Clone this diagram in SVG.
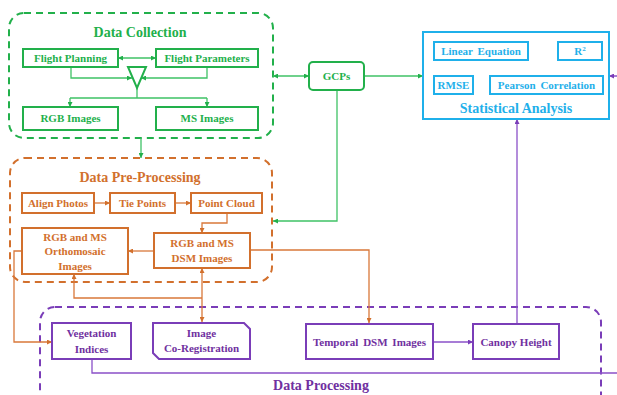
<svg xmlns="http://www.w3.org/2000/svg" width="617" height="395" viewBox="0 0 617 395">
<defs>
<marker id="ag" viewBox="0 0 10 10" refX="10" refY="5" markerWidth="5" markerHeight="5" markerUnits="userSpaceOnUse" orient="auto-start-reverse"><path d="M0 0L10 5L0 10z" fill="#22b04b"/></marker>
<marker id="ao" viewBox="0 0 10 10" refX="10" refY="5" markerWidth="5" markerHeight="5" markerUnits="userSpaceOnUse" orient="auto-start-reverse"><path d="M0 0L10 5L0 10z" fill="#d2702d"/></marker>
<marker id="ap" viewBox="0 0 10 10" refX="10" refY="5" markerWidth="5" markerHeight="5" markerUnits="userSpaceOnUse" orient="auto-start-reverse"><path d="M0 0L10 5L0 10z" fill="#7a3db8"/></marker>
</defs>
<style>
text{font-family:"Liberation Serif","Times New Roman",serif;font-weight:bold;text-anchor:middle}
.t{font-size:11px}
.h{font-size:14px}
.g{fill:#22b04b}.o{fill:#d2702d}.p{fill:#7030a0}.b{fill:#1fb0ea}
.bg{fill:#fff;stroke:#22b04b;stroke-width:2}
.bo{fill:#fff;stroke:#d2702d;stroke-width:2}
.bp{fill:#fff;stroke:#7a3db8;stroke-width:2}
.bb{fill:#fff;stroke:#1fb0ea;stroke-width:2}
.dg{fill:none;stroke:#22b04b;stroke-width:2;stroke-dasharray:7 5}
.do{fill:none;stroke:#d2702d;stroke-width:2;stroke-dasharray:7 5}
.dp{fill:none;stroke:#7a3db8;stroke-width:2;stroke-dasharray:7 5}
.cg{fill:none;stroke:#3fc266;stroke-width:1.3}
.co{fill:none;stroke:#d9783a;stroke-width:1.3}
.cp{fill:none;stroke:#8a50c8;stroke-width:1.3}
</style>
<g id="groups">
<rect class="dg" x="9" y="13" width="264" height="125" rx="15"/>
<text class="h g" x="140" y="37">Data Collection</text>
<rect class="do" x="10" y="158" width="262" height="124" rx="15"/>
<text class="h o" x="140" y="182">Data Pre-Processing</text>
<rect class="dp" x="40" y="307" width="561" height="110" rx="15"/>
<text class="h p" x="321" y="390">Data Processing</text>
</g>
<g id="connectors">
<path class="cg" d="M118 58H156" marker-start="url(#ag)" marker-end="url(#ag)"/>
<path class="cg" d="M71 67V78H132" marker-end="url(#ag)"/>
<path class="cg" d="M207 67V78H141" marker-end="url(#ag)"/>
<path class="cg" d="M137 88V98M70 98H207"/>
<path class="cg" d="M70 98V107" marker-end="url(#ag)"/>
<path class="cg" d="M207 98V107" marker-end="url(#ag)"/>
<path class="cg" d="M141 138V158" marker-end="url(#ag)"/>
<path class="cg" d="M273 76H309" marker-start="url(#ag)" marker-end="url(#ag)"/>
<path class="cg" d="M364 76H423" marker-end="url(#ag)"/>
<path class="cg" d="M337 90V221H273" marker-end="url(#ag)"/>
<path class="co" d="M94 203H110" marker-end="url(#ao)"/>
<path class="co" d="M175 203H191" marker-end="url(#ao)"/>
<path class="co" d="M227 213V223H202V233" marker-end="url(#ao)"/>
<path class="co" d="M154 251H128" marker-end="url(#ao)"/>
<path class="co" d="M250 250H369V323" marker-end="url(#ao)"/>
<path class="co" d="M22 251H14V342H52" marker-end="url(#ao)"/>
<path class="co" d="M202 268V322" marker-start="url(#ao)" marker-end="url(#ao)"/>
<path class="co" d="M202 298H74V274" marker-end="url(#ao)"/>
<path class="cp" d="M433 342H473" marker-end="url(#ap)"/>
<path class="cp" d="M517 324V119" marker-end="url(#ap)"/>
<path class="cp" d="M92 359V373H625V76H609" marker-end="url(#ap)"/>
</g>
<g id="flight-planning"><rect class="bg" x="23" y="49" width="95" height="18"/><text class="t g" x="70.5" y="62">Flight Planning</text></g>
<g id="flight-parameters"><rect class="bg" x="156" y="49" width="102" height="18"/><text class="t g" x="207" y="62">Flight Parameters</text></g>
<g id="merge"><polygon points="128,67 146,67 137,88" fill="#fff" stroke="#22b04b" stroke-width="2"/></g>
<g id="rgb-images"><rect class="bg" x="23" y="107" width="95" height="23"/><text class="t g" x="70.5" y="122">RGB Images</text></g>
<g id="ms-images"><rect class="bg" x="156" y="107" width="102" height="23"/><text class="t g" x="207" y="122">MS Images</text></g>
<g id="gcps"><rect class="bg" x="309" y="62" width="55" height="28" rx="4"/><text class="t g" x="336.5" y="80">GCPs</text></g>
<g id="statistical-analysis">
<rect class="bb" x="423" y="32" width="186" height="87"/>
<rect class="bb" x="434" y="42" width="94" height="18"/><text class="t b" x="481" y="55" word-spacing="2">Linear Equation</text>
<rect class="bb" x="558" y="42" width="44" height="18"/><text class="t b" x="580" y="55">R<tspan font-size="7" dy="-4">2</tspan></text>
<rect class="bb" x="434" y="76" width="39" height="18"/><text class="t b" x="453.5" y="89">RMSE</text>
<rect class="bb" x="490" y="76" width="113" height="18"/><text class="t b" x="546.5" y="89" word-spacing="2">Pearson Correlation</text>
<text class="h b" x="516" y="113" font-size="15">Statistical Analysis</text>
</g>
<g id="align-photos"><rect class="bo" x="22" y="193" width="72" height="20"/><text class="t o" x="58" y="207">Align Photos</text></g>
<g id="tie-points"><rect class="bo" x="110" y="193" width="65" height="20"/><text class="t o" x="142.5" y="207">Tie Points</text></g>
<g id="point-cloud"><rect class="bo" x="191" y="193" width="71" height="20"/><text class="t o" x="226.5" y="207">Point Cloud</text></g>
<g id="orthomosaic"><rect class="bo" x="22" y="228" width="106" height="46"/><text class="t o" x="75" y="241">RGB and MS</text><text class="t o" x="75" y="255">Orthomosaic</text><text class="t o" x="75" y="270">Images</text></g>
<g id="dsm-images"><rect class="bo" x="154" y="233" width="96" height="35"/><text class="t o" x="202" y="247">RGB and MS</text><text class="t o" x="202" y="262">DSM Images</text></g>
<g id="vegetation-indices"><rect class="bp" x="52" y="323" width="79" height="36"/><text class="t p" x="91.5" y="337">Vegetation</text><text class="t p" x="91.5" y="353">Indices</text></g>
<g id="co-registration"><path class="bp" d="M153 323H244L250 329V359H159L153 353Z"/><text class="t p" x="201.5" y="337">Image</text><text class="t p" x="201.5" y="352">Co-Registration</text></g>
<g id="temporal-dsm"><rect class="bp" x="306" y="324" width="127" height="35"/><text class="t p" x="369.5" y="346" word-spacing="2">Temporal DSM Images</text></g>
<g id="canopy-height"><rect class="bp" x="473" y="324" width="86" height="35"/><text class="t p" x="516" y="346">Canopy Height</text></g>
</svg>
